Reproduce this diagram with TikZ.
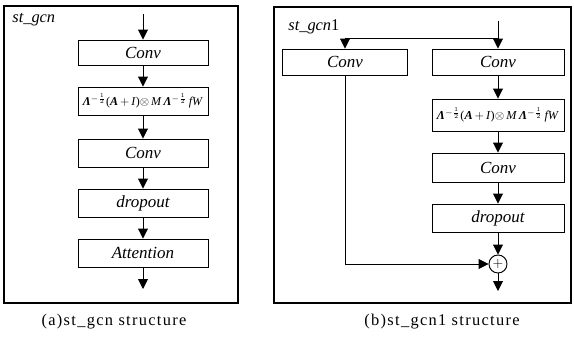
\documentclass[tikz,border=0pt]{standalone}
\usepackage{fontspec}
\setmainfont{Liberation Serif}
\usepackage{amsmath,graphicx}
\usetikzlibrary{positioning,calc}
\usetikzlibrary{arrows.meta}

\tikzset{
  blk/.style = {draw, thick, minimum width=130*0.03cm, minimum height=28*0.03cm,
                inner sep=1pt, font=\fontsize{14.5}{16}\selectfont\itshape},
  frm/.style = {draw, line width=1.1pt},
  captext/.style = {font=\fontsize{14}{16}\selectfont\addfontfeature{LetterSpace=8}},
}
\newcommand{\lam}{\textbf{\textit{Λ}}}
\newcommand{\gcnop}[1]{\resizebox{#1}{!}{\lam$^{-\frac{1}{2}}$(\textbf{\textit{A}}$\,+\,$\textit{I})$\otimes$\,\textit{M}\,\lam$^{-\frac{1}{2}}$\,\textit{fW}}}

\begin{document}
\begin{tikzpicture}[x=0.03cm, y=-0.03cm, thick, >={Triangle[width=8.5pt,length=8.5pt]}]
\useasboundingbox (0,0) rectangle (574,340);

% (a) st_gcn
\draw [frm] (4,6) rectangle (238,303);
\node [anchor=west, font=\fontsize{14}{16}\selectfont\itshape] (nameA) at (8,20) {st\_gcn};
\coordinate (inA) at (143,14);
\node [blk, minimum height=25*0.03cm] (convA) at (143,52.5) {Conv};
\node [blk, font=\normalfont] (gcnA) at (143,101) {\gcnop{3.6cm}};
\node [blk] (conv2A) at (143,153) {Conv};
\node [blk] (dropA) at (143,203) {dropout};
\node [blk] (attA) at (143,253) {Attention};
\coordinate (outA) at (143,289);
\draw [->] (inA) -- (convA);
\draw [->] (convA) -- (gcnA);
\draw [->] (gcnA) -- (conv2A);
\draw [->] (conv2A) -- (dropA);
\draw [->] (dropA) -- (attA);
\draw [->] (attA) -- (outA);

% (b) st_gcn1
\draw [frm] (274,7) rectangle (571,303);
\node [anchor=west, font=\fontsize{14}{16}\selectfont] (nameB) at (284,27) {\textit{st\_gcn}1};
\coordinate (inB) at (498,21);
\coordinate (splitB) at (498,38);
\node [blk, minimum width=125*0.03cm, minimum height=26*0.03cm] (convL) at (345,62) {Conv};
\node [blk, minimum width=132*0.03cm, minimum height=26*0.03cm] (convR) at (498,62) {Conv};
\node [blk, minimum width=132*0.03cm, minimum height=32*0.03cm, font=\normalfont] (gcnB) at (498,115) {\gcnop{3.66cm}};
\node [blk, minimum width=132*0.03cm, minimum height=29*0.03cm] (conv2B) at (498,167.5) {Conv};
\node [blk, minimum width=132*0.03cm] (dropB) at (498,218) {dropout};
\node [draw, thick, circle, minimum size=18*0.03cm, inner sep=0pt, font=\large] (plus) at (498,264) {$+$};
\coordinate (outB) at (498,291);
\draw [->] (inB) -- (convR);
\draw [->] (splitB) -| (convL);
\draw [->] (convR) -- (gcnB);
\draw [->] (gcnB) -- (conv2B);
\draw [->] (conv2B) -- (dropB);
\draw [->] (dropB) -- (plus);
\draw [->] (convL) |- (plus);
\draw [->] (plus) -- (outB);

% captions
\node [captext] (capA) at (114,322) {(a)st\_gcn structure};
\node [captext] (capB) at (442,322) {(b)st\_gcn1 structure};
\end{tikzpicture}
\end{document}
